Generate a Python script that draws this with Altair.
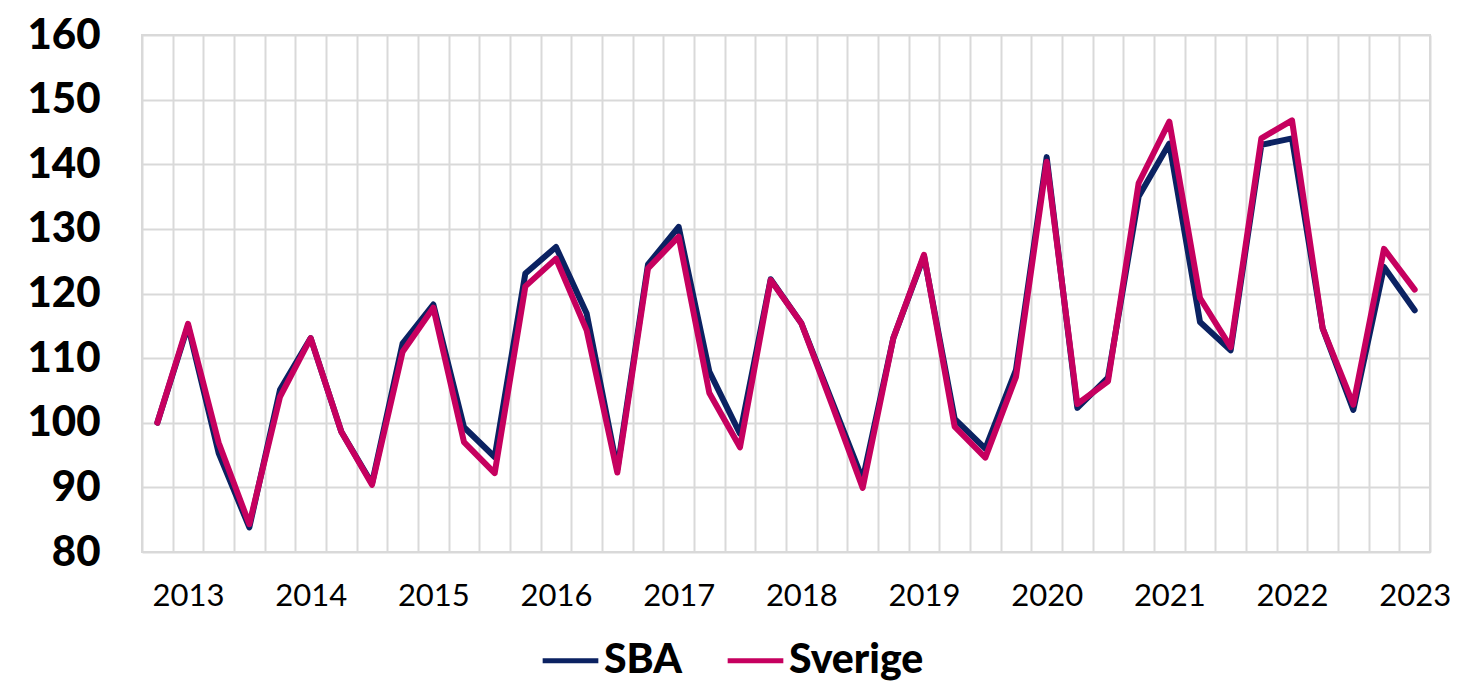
import altair as alt
import pandas as pd

periods = ["2012K4"] + [f"{y}K{q}" for y in range(2013, 2023) for q in range(1, 5)] + ["2023K1"]

sba = [100, 115, 95.3, 83.8, 105.1, 113.1, 98.6, 90.6, 112.3, 118.3, 99.3, 94.7,
       123.1, 127.2, 116.9, 92.8, 124.5, 130.3, 107.9, 98.3, 122.2, 115.4, 103.3, 91.2,
       113.1, 125.8, 100.6, 96.0, 108.2, 141.1, 102.3, 107.0, 135.0, 143.2, 115.6, 111.2,
       143.0, 144.0, 114.6, 102.0, 124.1, 117.4]
sverige = [100, 115.3, 96.9, 84.3, 104.0, 113.1, 98.6, 90.4, 111.0, 117.8, 97.0, 92.2,
           121.1, 125.4, 114.3, 92.3, 123.9, 128.8, 104.6, 96.2, 122.1, 115.4, 102.8, 89.9,
           113.1, 126.0, 99.4, 94.6, 107.1, 140.4, 102.9, 106.4, 137.1, 146.6, 119.3, 111.7,
           144.0, 146.8, 114.6, 102.8, 126.9, 120.6]

series = ["SBA", "Sverige"]
colors = ["#0b2262", "#c6005f"]

n = len(periods)
year_labels = [p[:4] if p.endswith("K1") else "" for p in periods]

df = pd.concat([
    pd.DataFrame({"idx": list(range(n)), "period": periods, "value": sba, "serie": "SBA"}),
    pd.DataFrame({"idx": list(range(n)), "period": periods, "value": sverige, "serie": "Sverige"}),
])

label_array = "[" + ",".join(f"'{s}'" for s in year_labels) + "]"
grid_values = [k - 0.5 for k in range(n + 1)]
band_px = 1288 / n

chart = alt.Chart(df).mark_line(strokeWidth=6, strokeCap="round", strokeJoin="round").encode(
    x=alt.X("idx:Q", title=None,
            scale=alt.Scale(domain=[-0.5, n - 0.5], nice=False, zero=False),
            axis=alt.Axis(values=grid_values, grid=True, gridColor="#d9d9d9", gridWidth=2,
                          ticks=False, domain=False, labelAngle=0, labelFlush=False,
                          labelExpr=f"(datum.value + 0.5) < {n} ? {label_array}[round(datum.value + 0.5)] : ''",
                          labelOffset=band_px / 2,
                          labelFont="Lato", labelFontSize=31, labelColor="#000000",
                          labelPadding=29, labelOverlap=False)),
    y=alt.Y("value:Q", title=None,
            scale=alt.Scale(domain=[80, 160], nice=False, zero=False),
            axis=alt.Axis(values=list(range(80, 161, 10)), grid=True, gridColor="#d9d9d9",
                          gridWidth=2, ticks=False, domain=False,
                          labelFont="Lato", labelFontWeight=900, labelFontSize=42,
                          labelColor="#000000", labelPadding=42)),
    color=alt.Color("serie:N", title=None,
                    scale=alt.Scale(domain=series, range=colors),
                    legend=alt.Legend(orient="none", legendX=398, legendY=595,
                                      direction="horizontal", symbolType="stroke",
                                      symbolSize=3100, symbolStrokeWidth=5,
                                      labelFont="Lato", labelFontWeight=900,
                                      labelFontSize=41, labelColor="#000000",
                                      labelOffset=3, columnPadding=34)),
    detail="serie:N",
).properties(
    width=1288, height=517,
    padding={"left": 134, "top": 27, "right": 20, "bottom": 131},
    autosize="none",
).configure_view(stroke="#d9d9d9", strokeWidth=2)

chart.save("out.html", embed_options={"renderer": "svg", "actions": False})
